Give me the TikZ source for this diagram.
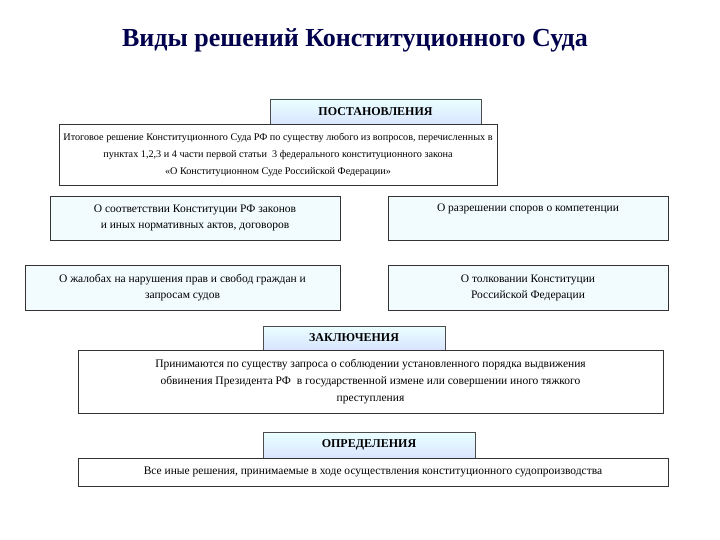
\documentclass[tikz,border=0pt]{standalone}
\usepackage{fontspec}
\setmainfont{Liberation Serif}
\begin{document}
\begin{tikzpicture}[x=1pt,y=-1pt,
  hdr/.style={draw=black!70,top color=cyan!8,bottom color=cyan!30!blue!15,font=\fontsize{12}{14}\selectfont\bfseries,inner sep=0pt},
  sub/.style={draw=black!80,fill=cyan!5,font=\fontsize{11.5}{16}\selectfont,align=center,inner sep=0pt},
  desc/.style={draw=black!80,fill=white,font=\fontsize{11.5}{17}\selectfont,align=center,inner sep=0pt}]
\useasboundingbox (0,0) rectangle (720,540);
\node[font=\fontsize{26}{30}\selectfont\bfseries,text=blue!30!black] (title) at (355,40) {Виды решений Конституционного Суда};
\node[hdr,minimum width=211,minimum height=26] (p) at (375.5,112) {ПОСТАНОВЛЕНИЯ};
\node[desc,minimum width=438,minimum height=61,font=\fontsize{10.2}{17}\selectfont] (pd) at (278,154.5) {Итоговое решение Конституционного Суда РФ по существу любого из вопросов, перечисленных в\\ пунктах 1,2,3 и 4 части первой статьи\ \ 3 федерального конституционного закона\\ «О Конституционном Суде Российской Федерации»};
\node[sub,minimum width=290,minimum height=44] (l1) at (195,218) {О соответствии Конституции РФ законов\\ и иных нормативных актов, договоров};
\node[sub,minimum width=280,minimum height=44] (r1) at (528,218) {О разрешении споров о компетенции\\ \strut};
\node[sub,minimum width=315,minimum height=45] (l2) at (182.5,287.5) {О жалобах на нарушения прав и свобод граждан и\\ запросам судов};
\node[sub,minimum width=280,minimum height=45] (r2) at (528,287.5) {О толковании Конституции\\ Российской Федерации};
\node[hdr,minimum width=182,minimum height=24] (z) at (354,338) {ЗАКЛЮЧЕНИЯ};
\node[desc,minimum width=585,minimum height=63] (zd) at (370.5,381.5) {Принимаются по существу запроса о соблюдении установленного порядка выдвижения\\ обвинения Президента РФ\ \ в государственной измене или совершении иного тяжкого\\ преступления};
\node[hdr,minimum width=212,minimum height=26] (o) at (369,445) {ОПРЕДЕЛЕНИЯ};
\node[desc,minimum width=590,minimum height=28] (od) at (373,472) {Все иные решения, принимаемые в ходе осуществления конституционного судопроизводства};
\end{tikzpicture}
\end{document}
